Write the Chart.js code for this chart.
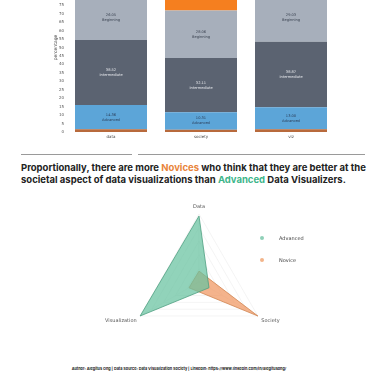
<!DOCTYPE html>
<html>
<head>
<meta charset="utf-8">
<script src="https://cdn.jsdelivr.net/npm/chart.js@4.4.0/dist/chart.umd.min.js"></script>
<style>
  html, body { margin: 0; padding: 0; background: #fff; overflow: hidden; }
  body { width: 387px; height: 387px; position: relative; font-family: "Inter", "Lato", sans-serif; }
  #barWrap { position: absolute; left: 0; top: -48px; width: 387px; height: 195px; }
  #radarWrap { position: absolute; left: 94px; top: 199px; width: 210px; height: 156px; }
  .rule { position: absolute; top: 154px; height: 1px; background: #9a9a9a; }
  #title { position: absolute; left: 21px; top: 162px; width: 360px; font-weight: 700; font-size: 9.5px; line-height: 12px; color: #222; white-space: nowrap; }
  .nov { color: #e8843a; }
  .adv { color: #3db58a; }
  #legend { position: absolute; left: 258px; top: 233px; font-size: 5px; color: #444; font-family: "DejaVu Sans", sans-serif; }
  #legend div { position: relative; height: 22px; line-height: 10px; padding-left: 21px; }
  #legend span { position: absolute; left: 2px; top: 3px; width: 4px; height: 4px; border-radius: 50%; }
  #footer { position: absolute; left: 0; top: 366px; width: 358px; text-align: center; font-size: 3.8px; font-weight: 700; color: #222; white-space: nowrap; }
</style>
</head>
<body>
<div id="barWrap"><canvas id="barChart"></canvas></div>
<div class="rule" style="left:21px;width:111px"></div>
<div class="rule" style="left:138px;width:227px"></div>
<div id="title">Proportionally, there are more <span class="nov">Novices</span> who think that they are better at the<br>societal aspect of data visualizations than <span class="adv">Advanced</span> Data Visualizers.</div>
<div id="radarWrap"><canvas id="radarChart"></canvas></div>
<div id="legend">
  <div><span style="background:#8fd0b8"></span>Advanced</div>
  <div><span style="background:#f3b48a"></span>Novice</div>
</div>
<div id="footer">Author: Alegitus Ong | Data Source: Data Visualization Society | LinkedIn: https://www.linkedin.com/in/alegitusong/</div>

<script>
// stacked bar data (percent of respondents per skill level)
const barCategories = ["data", "society", "viz"];
const expertVals = [1.6, 1.4, 1.6];
const advancedVals = [14.36, 10.31, 13.0];
const intermediateVals = [38.52, 32.11, 38.87];
const beginningVals = [26.05, 28.06, 29.03];
const noviceVals = [19.47, 28.12, 17.5];
const yTicks = [0, 5, 10, 15, 20, 25, 30, 35, 40, 45, 50, 55, 60, 65, 70, 75, 80, 85, 90, 95, 100];

// radar data
const radarLabels = ["Data", "Society", "Visualization"];
const advancedRadar = [48.5, 8.5, 50];
const noviceRadar = [8, 50, 8.5];

const segLabels = {
  id: "segLabels",
  afterDatasetsDraw(chart) {
    const ctx = chart.ctx;
    chart.data.datasets.forEach((ds, i) => {
      if (!ds.showLabel) return;
      const meta = chart.getDatasetMeta(i);
      meta.data.forEach((bar, j) => {
        const y = (bar.y + bar.base) / 2;
        ctx.save();
        ctx.fillStyle = ds.labelColor;
        ctx.font = "3.6px 'DejaVu Sans'";
        ctx.textAlign = "center";
        ctx.textBaseline = "middle";
        ctx.fillText(ds.data[j].toFixed(2), bar.x, y - 2.5);
        ctx.fillText(ds.label, bar.x, y + 2.5);
        ctx.restore();
      });
    });
  }
};

new Chart(document.getElementById("barChart"), {
  type: "bar",
  data: {
    labels: barCategories,
    datasets: [
      { label: "Expert", data: expertVals, backgroundColor: "#b86a3c" },
      { label: "Advanced", data: advancedVals, backgroundColor: "#5ca5d8", showLabel: true, labelColor: "#2a3a55" },
      { label: "Intermediate", data: intermediateVals, backgroundColor: "#5b6371", showLabel: true, labelColor: "#e6e8ec" },
      { label: "Beginning", data: beginningVals, backgroundColor: "#a7afbb", showLabel: true, labelColor: "#3a4250" },
      { label: "Novice", data: noviceVals, backgroundColor: "#f57f1f" }
    ]
  },
  options: {
    responsive: true,
    maintainAspectRatio: false,
    animation: false,
    layout: { padding: { top: 11, right: 51, left: 53, bottom: 0 } },
    plugins: { legend: { display: false }, tooltip: { enabled: false } },
    datasets: { bar: { categoryPercentage: 1, barPercentage: 0.8 } },
    scales: {
      x: {
        stacked: true,
        grid: { display: false, drawTicks: false },
        border: { display: false },
        ticks: { color: "#444", font: { size: 4, family: "DejaVu Sans" }, padding: 3 },
        afterFit(s) { s.height = 15; }
      },
      y: {
        stacked: true,
        min: 0,
        max: 100,
        grid: { display: false, drawTicks: false },
        border: { display: false },
        afterBuildTicks(s) { s.ticks = yTicks.map(v => ({ value: v })); },
        ticks: { autoSkip: false, color: "#555", font: { size: 4, family: "DejaVu Sans" }, padding: 2 },
        title: { display: true, text: "percentage", color: "#444", font: { size: 4.5, family: "DejaVu Sans" }, padding: 0 },
        afterFit(s) { s.width = 13; }
      }
    }
  },
  plugins: [segLabels]
});

new Chart(document.getElementById("radarChart"), {
  type: "radar",
  data: {
    labels: radarLabels,
    datasets: [
      { label: "Advanced", data: advancedRadar, backgroundColor: "rgba(102,194,160,0.72)", borderColor: "#4f9f82", borderWidth: 0.8, pointRadius: 0 },
      { label: "Novice", data: noviceRadar, backgroundColor: "rgba(240,150,95,0.72)", borderColor: "#d08552", borderWidth: 0.8, pointRadius: 0 }
    ]
  },
  options: {
    responsive: true,
    maintainAspectRatio: false,
    animation: false,
    plugins: { legend: { display: false }, tooltip: { enabled: false } },
    scales: {
      r: {
        min: 0,
        max: 50,
        ticks: { stepSize: 10, display: false },
        grid: { color: "#ececec", lineWidth: 0.6 },
        angleLines: { color: "#f0f0f0", lineWidth: 0.6 },
        pointLabels: { color: "#555", font: { size: 5, family: "DejaVu Sans" }, padding: 4 }
      }
    }
  }
});
</script>
</body>
</html>
